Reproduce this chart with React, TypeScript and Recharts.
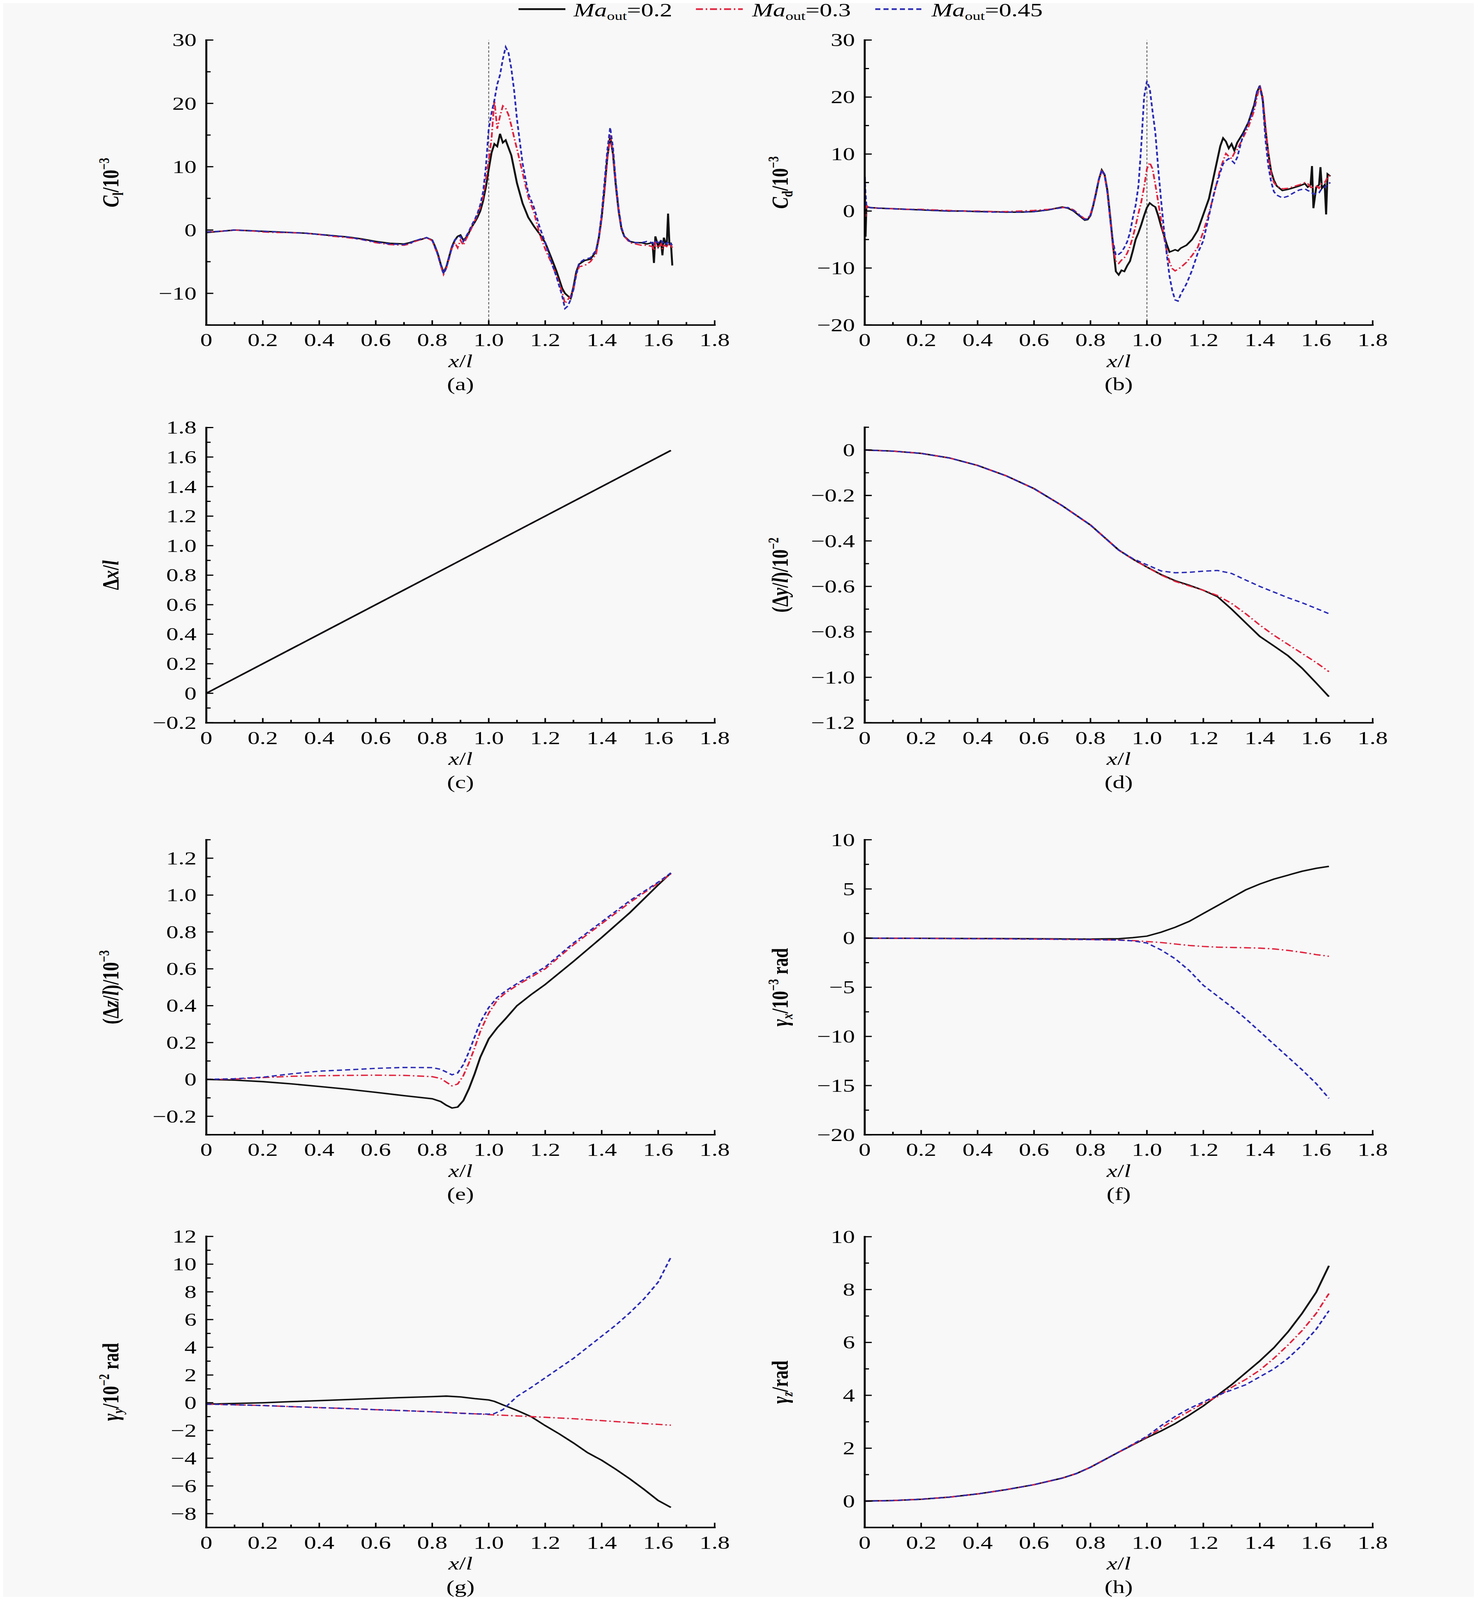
import React from 'react';
import { LineChart, Line, XAxis, YAxis, ReferenceLine } from 'recharts';

const FONT = "'Liberation Serif','Times New Roman',Times,serif";

// ---------- ticks ----------
const xTicks = [0, 0.1, 0.2, 0.3, 0.4, 0.5, 0.6, 0.7, 0.8, 0.9, 1.0, 1.1, 1.2, 1.3, 1.4, 1.5, 1.6, 1.7, 1.8];
const aYTicks = [-15, -10, -5, 0, 5, 10, 15, 20, 25, 30];
const bYTicks = [-20, -15, -10, -5, 0, 5, 10, 15, 20, 25, 30];
const cYTicks = [-0.2, -0.1, 0, 0.1, 0.2, 0.3, 0.4, 0.5, 0.6, 0.7, 0.8, 0.9, 1.0, 1.1, 1.2, 1.3, 1.4, 1.5, 1.6, 1.7, 1.8];
const dYTicks = [-1.2, -1.1, -1.0, -0.9, -0.8, -0.7, -0.6, -0.5, -0.4, -0.3, -0.2, -0.1, 0, 0.1];
const eYTicks = [-0.3, -0.2, -0.1, 0, 0.1, 0.2, 0.3, 0.4, 0.5, 0.6, 0.7, 0.8, 0.9, 1.0, 1.1, 1.2, 1.3];
const fYTicks = [-20, -17.5, -15, -12.5, -10, -7.5, -5, -2.5, 0, 2.5, 5, 7.5, 10];
const gYTicks = [-9, -8, -7, -6, -5, -4, -3, -2, -1, 0, 1, 2, 3, 4, 5, 6, 7, 8, 9, 10, 11, 12];
const hYTicks = [-1, 0, 1, 2, 3, 4, 5, 6, 7, 8, 9, 10];

// ---------- (a) lift coefficient ----------
const aX = [0, 0.05, 0.1, 0.15, 0.2, 0.25, 0.3, 0.35, 0.4, 0.45,
  0.5, 0.55, 0.6, 0.65, 0.7, 0.72, 0.74, 0.76, 0.78, 0.8,
  0.81, 0.82, 0.83, 0.84, 0.85, 0.86, 0.87, 0.88, 0.89, 0.9,
  0.91, 0.92, 0.93, 0.94, 0.95, 0.96, 0.97, 0.98, 0.99, 1.0,
  1.01, 1.02, 1.03, 1.04, 1.05, 1.06, 1.07, 1.08, 1.09, 1.1,
  1.12, 1.14, 1.16, 1.18, 1.2, 1.22, 1.24, 1.26, 1.27, 1.28,
  1.29, 1.3, 1.31, 1.32, 1.34, 1.36, 1.38, 1.39, 1.4, 1.41,
  1.42, 1.43, 1.44, 1.45, 1.46, 1.47, 1.48, 1.5, 1.52, 1.54,
  1.56, 1.58, 1.585, 1.59, 1.6, 1.61, 1.615, 1.62, 1.63, 1.635,
  1.64, 1.645, 1.65];
const aBlack = [-0.4, -0.2, 0.0, -0.1, -0.2, -0.3, -0.4, -0.5, -0.7, -0.9,
  -1.1, -1.4, -1.8, -2.1, -2.2, -2.0, -1.7, -1.5, -1.2, -1.6,
  -2.6, -3.8, -5.4, -6.7, -5.8, -4.2, -2.6, -1.6, -1.0, -0.8,
  -1.6, -1.2, -0.4, 0.5, 1.2, 2.0, 3.0, 4.6, 6.8, 9.6,
  12.2, 13.6, 13.2, 15.2, 13.8, 14.2, 13.0, 11.8, 9.6, 7.4,
  4.2, 2.0, 0.6, -0.6, -2.0, -4.2, -6.5, -9.2, -10.0, -10.4,
  -10.8, -9.0, -6.6, -5.4, -4.8, -4.6, -3.4, -1.2, 2.0, 6.5,
  11.5, 14.8, 12.0, 7.0, 3.0, 0.2, -1.0, -1.8, -2.0, -2.0,
  -2.2, -2.0, -5.2, -1.0, -2.6, -1.6, -4.0, -1.2, -2.6, 2.6,
  -2.4, -2.0, -5.6];
const aRed = [-0.3, -0.2, 0.0, -0.1, -0.3, -0.4, -0.4, -0.5, -0.7, -1.0,
  -1.2, -1.5, -2.0, -2.3, -2.4, -2.2, -1.8, -1.5, -1.2, -1.7,
  -2.8, -4.0, -5.6, -7.0, -6.0, -4.4, -2.8, -2.0, -2.8, -1.6,
  -2.4, -1.4, -0.6, 0.4, 1.4, 2.4, 3.6, 5.2, 8.0, 11.0,
  14.5, 20.5, 16.0, 18.0, 19.6, 19.2, 18.2, 16.5, 14.6, 12.8,
  9.0, 5.2, 2.8, -0.6, -3.0, -5.0, -7.2, -9.8, -11.6, -11.0,
  -10.4, -9.4, -7.0, -5.8, -5.6, -5.0, -3.8, -1.4, 2.0, 6.2,
  11.2, 15.0, 12.2, 7.2, 3.2, 0.4, -1.0, -2.0, -2.2, -2.4,
  -2.4, -2.6, -3.2, -2.0, -2.8, -2.2, -3.0, -2.4, -2.6, -2.2,
  -2.6, -2.4, -2.8];
const aBlue = [-0.3, -0.2, 0.0, -0.1, -0.2, -0.3, -0.4, -0.5, -0.7, -0.9,
  -1.1, -1.5, -1.9, -2.2, -2.3, -2.1, -1.7, -1.4, -1.2, -1.6,
  -2.7, -3.9, -5.5, -6.9, -5.9, -4.3, -2.7, -1.6, -1.2, -1.0,
  -1.8, -1.0, -0.2, 0.8, 1.6, 2.6, 4.0, 6.0, 10.0, 16.0,
  18.5, 20.5, 23.0, 24.5, 27.0, 28.9, 28.0, 25.5, 22.0, 17.5,
  10.5, 5.8, 3.6, 0.5, -2.0, -4.8, -7.4, -10.4, -12.4, -12.0,
  -11.0, -9.4, -7.0, -5.2, -4.6, -4.4, -3.2, -1.0, 2.6, 7.6,
  12.6, 16.2, 13.0, 7.6, 3.4, 0.4, -1.0, -1.8, -2.0, -2.0,
  -1.8, -2.0, -2.2, -1.8, -2.0, -1.6, -2.0, -1.8, -2.2, -1.8,
  -2.0, -2.2, -2.4];

// ---------- (b) drag coefficient ----------
const bX = [0, 0.003, 0.006, 0.01, 0.02, 0.05, 0.1, 0.15, 0.2, 0.25,
  0.3, 0.35, 0.4, 0.45, 0.5, 0.55, 0.6, 0.65, 0.7, 0.72,
  0.74, 0.76, 0.78, 0.79, 0.8, 0.81, 0.82, 0.83, 0.84, 0.85,
  0.86, 0.87, 0.88, 0.89, 0.9, 0.91, 0.92, 0.93, 0.94, 0.95,
  0.96, 0.97, 0.98, 0.99, 1.0, 1.01, 1.02, 1.03, 1.04, 1.05,
  1.06, 1.07, 1.08, 1.09, 1.1, 1.11, 1.12, 1.14, 1.16, 1.18,
  1.2, 1.22, 1.24, 1.26, 1.27, 1.28, 1.29, 1.3, 1.31, 1.32,
  1.34, 1.36, 1.38, 1.39, 1.4, 1.41, 1.42, 1.43, 1.44, 1.45,
  1.46, 1.48, 1.5, 1.52, 1.54, 1.56, 1.57, 1.58, 1.585, 1.59,
  1.6, 1.61, 1.615, 1.62, 1.63, 1.635, 1.64, 1.65];
const bBlack = [6.0, -4.5, 1.0, 0.7, 0.6, 0.5, 0.4, 0.3, 0.2, 0.1,
  0.0, 0.0, -0.1, -0.1, -0.2, -0.2, -0.1, 0.2, 0.7, 0.5,
  0.0, -0.8, -1.6, -1.5, -0.8, 1.0, 3.2, 5.6, 7.2, 6.4,
  3.6, -1.0, -6.0, -10.6, -11.2, -10.4, -10.6, -9.6, -8.8, -7.0,
  -5.0, -3.8, -2.4, -0.8, 0.6, 1.4, 1.0, 0.7, -0.8, -2.6,
  -4.2, -5.8, -7.2, -7.0, -6.8, -7.0, -6.5, -6.0, -5.0, -3.4,
  -0.6, 2.2, 6.8, 11.4, 12.8, 12.2, 11.0, 11.8, 10.6, 12.0,
  13.6, 15.6, 18.6, 20.8, 22.0, 19.8, 14.4, 10.2, 7.0, 5.4,
  4.4, 3.6, 3.8, 4.1, 4.4, 4.8, 4.2, 4.6, 7.9, 0.5,
  4.2, 4.6, 7.7, 4.0, 4.6, -0.6, 6.5, 6.1];
const bRed = [5.0, -1.0, 1.0, 0.8, 0.6, 0.5, 0.4, 0.3, 0.3, 0.2,
  0.1, 0.0, 0.0, -0.1, -0.1, 0.0, 0.1, 0.3, 0.6, 0.6,
  0.2, -0.6, -1.4, -1.3, -0.6, 1.2, 3.4, 5.6, 7.0, 6.2,
  3.4, -1.4, -6.6, -8.8, -9.2, -8.6, -8.2, -7.4, -6.2, -4.6,
  -2.6, -0.4, 1.6, 4.2, 7.4, 8.5, 7.4, 4.6, 1.6, -1.6,
  -4.4, -7.0, -9.0, -10.1, -10.5, -10.2, -9.9, -9.0, -7.8, -6.4,
  -3.6, -0.4, 3.4, 7.4, 8.8, 10.1, 9.6, 9.2, 10.2, 10.8,
  12.8, 14.8, 17.6, 20.0, 22.0, 20.2, 15.0, 10.0, 6.6, 5.0,
  4.4, 3.9, 4.0, 4.3, 4.6, 5.0, 4.8, 4.2, 3.9, 4.2,
  4.4, 4.0, 4.6, 4.8, 5.0, 5.4, 6.0, 6.3];
const bBlue = [6.0, 3.0, 1.0, 0.8, 0.6, 0.5, 0.4, 0.3, 0.2, 0.1,
  0.0, 0.0, -0.1, -0.2, -0.2, -0.2, -0.1, 0.2, 0.6, 0.6,
  0.1, -0.7, -1.5, -1.4, -0.7, 1.1, 3.3, 5.6, 7.2, 6.4,
  3.2, -1.6, -5.4, -7.8, -7.6, -7.2, -6.4, -5.4, -3.8, -1.2,
  1.0, 4.4, 11.5, 20.0, 22.8, 21.5, 17.5, 13.7, 7.5, 2.0,
  -3.0, -7.5, -11.4, -14.0, -15.6, -15.8, -14.6, -12.8, -10.4, -7.4,
  -5.2, -0.8, 3.6, 6.8, 8.3, 8.8, 9.2, 8.9, 8.4, 9.4,
  13.2, 15.6, 18.2, 21.0, 21.8, 19.4, 12.6, 8.0, 5.2, 3.4,
  2.8, 2.3, 2.6, 3.2, 3.7, 3.9, 3.6, 3.4, 3.2, 3.0,
  3.0, 3.2, 3.6, 3.9, 4.2, 4.4, 4.7, 5.0];

// ---------- (c) Δx/l ----------
const cX = [0, 0.4, 0.8, 1.2, 1.645];
const cBlack = [0, 0.4, 0.8, 1.2, 1.645];
const cRed = [0, 0.4, 0.8, 1.2, 1.645];
const cBlue = [0, 0.4, 0.8, 1.2, 1.645];

// ---------- (d) Δy/l ----------
const dX = [0, 0.1, 0.2, 0.3, 0.4, 0.5, 0.6, 0.7, 0.8, 0.85, 0.9, 0.95, 1.0, 1.05, 1.1, 1.15, 1.2, 1.25, 1.3, 1.35, 1.4, 1.45, 1.5, 1.55, 1.6, 1.645];
const dBlack = [0, -0.005, -0.015, -0.035, -0.068, -0.113, -0.17, -0.245, -0.33, -0.385, -0.44, -0.48, -0.515, -0.548, -0.575, -0.595, -0.617, -0.645, -0.7, -0.76, -0.82, -0.862, -0.905, -0.96, -1.025, -1.085];
const dRed = [0, -0.005, -0.015, -0.035, -0.068, -0.113, -0.17, -0.245, -0.33, -0.385, -0.44, -0.48, -0.515, -0.55, -0.578, -0.598, -0.617, -0.64, -0.675, -0.72, -0.77, -0.815, -0.855, -0.895, -0.935, -0.975];
const dBlue = [0, -0.005, -0.015, -0.035, -0.068, -0.113, -0.17, -0.245, -0.33, -0.385, -0.44, -0.478, -0.505, -0.532, -0.54, -0.538, -0.533, -0.53, -0.543, -0.572, -0.6, -0.625, -0.65, -0.672, -0.697, -0.72];

// ---------- (e) Δz/l ----------
const eX = [0, 0.1, 0.2, 0.3, 0.4, 0.5, 0.6, 0.7, 0.8, 0.83, 0.85, 0.87, 0.89, 0.91, 0.93, 0.95, 0.97, 1.0, 1.03, 1.06, 1.1, 1.15, 1.2, 1.3, 1.4, 1.5, 1.6, 1.645];
const eBlack = [0, -0.004, -0.012, -0.024, -0.038, -0.053, -0.07, -0.088, -0.105, -0.12, -0.14, -0.155, -0.15, -0.115, -0.05, 0.03, 0.12, 0.22, 0.28, 0.33, 0.4, 0.46, 0.515, 0.64, 0.77, 0.905, 1.055, 1.12];
const eRed = [0, 0.002, 0.01, 0.017, 0.02, 0.022, 0.023, 0.022, 0.015, 0.005, -0.015, -0.035, -0.025, 0.02, 0.09, 0.17, 0.26, 0.36, 0.43, 0.47, 0.51, 0.555, 0.6, 0.73, 0.845, 0.96, 1.065, 1.115];
const eBlue = [0, 0.004, 0.012, 0.03, 0.045, 0.052, 0.06, 0.065, 0.064, 0.055, 0.04, 0.025, 0.035, 0.08, 0.15, 0.23, 0.31, 0.39, 0.445, 0.48, 0.52, 0.565, 0.61, 0.74, 0.855, 0.97, 1.07, 1.12];

// ---------- (f) γx ----------
const fX = [0, 0.2, 0.4, 0.6, 0.8, 0.9, 0.95, 1.0, 1.05, 1.1, 1.15, 1.2, 1.25, 1.3, 1.35, 1.4, 1.45, 1.5, 1.55, 1.6, 1.645];
const fBlack = [0, -0.02, -0.04, -0.06, -0.1, -0.06, 0.05, 0.2, 0.6, 1.1, 1.7, 2.5, 3.3, 4.1, 4.9, 5.5, 6.0, 6.4, 6.8, 7.1, 7.3];
const fRed = [0, -0.03, -0.06, -0.1, -0.15, -0.2, -0.25, -0.35, -0.45, -0.6, -0.75, -0.85, -0.92, -0.95, -0.98, -1.02, -1.1, -1.25, -1.45, -1.68, -1.85];
const fBlue = [0, -0.03, -0.06, -0.1, -0.15, -0.2, -0.28, -0.5, -1.2, -2.1, -3.3, -4.8, -5.9, -7.0, -8.2, -9.5, -10.8, -12.1, -13.4, -14.8, -16.3];

// ---------- (g) γy ----------
const gX = [0, 0.1, 0.2, 0.3, 0.4, 0.5, 0.6, 0.7, 0.8, 0.85, 0.9, 0.95, 1.0, 1.02, 1.05, 1.1, 1.15, 1.2, 1.25, 1.3, 1.35, 1.4, 1.45, 1.5, 1.55, 1.6, 1.645];
const gBlack = [-0.1, -0.05, 0.0, 0.08, 0.15, 0.23, 0.31, 0.38, 0.44, 0.48, 0.42, 0.3, 0.2, 0.1, -0.15, -0.55, -1.0, -1.65, -2.25, -2.9, -3.6, -4.15, -4.8, -5.5, -6.25, -7.05, -7.55];
const gRed = [-0.1, -0.15, -0.2, -0.28, -0.35, -0.42, -0.5, -0.57, -0.65, -0.7, -0.75, -0.8, -0.85, -0.88, -0.9, -0.95, -1.0, -1.05, -1.1, -1.15, -1.22, -1.29, -1.36, -1.43, -1.5, -1.56, -1.62];
const gBlue = [-0.1, -0.15, -0.2, -0.28, -0.35, -0.42, -0.5, -0.57, -0.65, -0.7, -0.76, -0.8, -0.82, -0.78, -0.5, 0.45, 1.1, 1.8, 2.5, 3.2, 4.0, 4.8, 5.6, 6.5, 7.5, 8.7, 10.5];

// ---------- (h) γz ----------
const hX = [0, 0.1, 0.2, 0.3, 0.4, 0.5, 0.6, 0.7, 0.75, 0.8, 0.9, 1.0, 1.05, 1.1, 1.15, 1.2, 1.25, 1.3, 1.35, 1.4, 1.45, 1.5, 1.55, 1.6, 1.645];
const hBlack = [0, 0.02, 0.07, 0.15, 0.27, 0.43, 0.62, 0.87, 1.04, 1.28, 1.85, 2.4, 2.65, 2.93, 3.25, 3.6, 4.0, 4.4, 4.85, 5.3, 5.8, 6.4, 7.1, 7.9, 8.9];
const hRed = [0, 0.02, 0.07, 0.15, 0.27, 0.43, 0.62, 0.87, 1.04, 1.28, 1.85, 2.42, 2.75, 3.1, 3.4, 3.7, 3.95, 4.3, 4.6, 4.95, 5.4, 5.9, 6.45, 7.1, 7.85];
const hBlue = [0, 0.02, 0.07, 0.15, 0.27, 0.43, 0.62, 0.87, 1.04, 1.28, 1.85, 2.45, 2.85, 3.2, 3.5, 3.75, 4.0, 4.2, 4.4, 4.7, 5.0, 5.4, 5.9, 6.5, 7.2];

// ---------- legend ----------
const legendNames = ['0.2', '0.3', '0.45'];

// ---------- styles ----------
const SERIES_STYLE = [
  { stroke: '#111111', strokeWidth: 5, dash: undefined as string | undefined },
  { stroke: '#e1233e', strokeWidth: 4.5, dash: '18 7 4 7' },
  { stroke: '#2a2ab6', strokeWidth: 4.5, dash: '13 8' },
];

const zip = (xs: number[], ys: number[]) => xs.map((x, i) => ({ x, y: ys[i] }));

type PanelCfg = {
  id: string; x0: number; x1: number; y0: number; y1: number;
  yDomain: [number, number]; yTicks: number[]; yMajor: number; yDec: number;
  ref: boolean; xs: number[]; series: number[][]; order: number[];
};

const panels: PanelCfg[] = [
  { id: 'a', x0: 528, x1: 1829, y0: 136, y1: 1103, yDomain: [-15, 30], yTicks: aYTicks, yMajor: 10, yDec: 0, ref: true, xs: aX, series: [aBlack, aRed, aBlue], order: [0, 1, 2] },
  { id: 'b', x0: 2213, x1: 3513, y0: 136, y1: 1103, yDomain: [-20, 30], yTicks: bYTicks, yMajor: 10, yDec: 0, ref: true, xs: bX, series: [bBlack, bRed, bBlue], order: [0, 1, 2] },
  { id: 'c', x0: 528, x1: 1829, y0: 1451, y1: 2453, yDomain: [-0.2, 1.8], yTicks: cYTicks, yMajor: 0.2, yDec: 1, ref: false, xs: cX, series: [cBlack, cRed, cBlue], order: [1, 2, 0] },
  { id: 'd', x0: 2213, x1: 3513, y0: 1450, y1: 2453, yDomain: [-1.2, 0.1], yTicks: dYTicks, yMajor: 0.2, yDec: 1, ref: false, xs: dX, series: [dBlack, dRed, dBlue], order: [0, 1, 2] },
  { id: 'e', x0: 528, x1: 1829, y0: 2850, y1: 3851, yDomain: [-0.3, 1.3], yTicks: eYTicks, yMajor: 0.2, yDec: 1, ref: false, xs: eX, series: [eBlack, eRed, eBlue], order: [0, 1, 2] },
  { id: 'f', x0: 2213, x1: 3513, y0: 2850, y1: 3851, yDomain: [-20, 10], yTicks: fYTicks, yMajor: 5, yDec: 0, ref: false, xs: fX, series: [fBlack, fRed, fBlue], order: [0, 1, 2] },
  { id: 'g', x0: 528, x1: 1829, y0: 4196, y1: 5184, yDomain: [-9, 12], yTicks: gYTicks, yMajor: 2, yDec: 0, ref: false, xs: gX, series: [gBlack, gRed, gBlue], order: [0, 1, 2] },
  { id: 'h', x0: 2213, x1: 3513, y0: 4197, y1: 5184, yDomain: [-1, 10], yTicks: hYTicks, yMajor: 2, yDec: 0, ref: false, xs: hX, series: [hBlack, hRed, hBlue], order: [0, 1, 2] },
];

const PL = 330, PR = 60, PT = 40, PB = 200, YW = 100, XH = 100;
const TICK_FS = 62;
const PAGE_W = 3780, PAGE_H = 5430;

const isMajor = (v: number, step: number) => Math.abs(v / step - Math.round(v / step)) < 1e-6;
const fmt = (v: number, dec: number) => {
  if (Math.abs(v) < 1e-9) return '0';
  const s = Math.abs(v).toFixed(dec);
  return v < 0 ? '\u2212' + s : s;
};

function Panel({ cfg }: { cfg: PanelCfg }) {
  const w = cfg.x1 - cfg.x0;
  const h = cfg.y1 - cfg.y0;
  const axisY = PT + h;
  const axisX = PL;
  const axisStyle = { stroke: '#000', strokeWidth: 5, strokeLinecap: 'square' as const };

  const xTick = (props: any) => {
    const x = props.x;
    const v = props.payload.value;
    const major = isMajor(v, 0.2);
    return (
      <g>
        <line x1={x} x2={x} y1={axisY} y2={axisY - (major ? 16 : 10)} stroke="#000" strokeWidth={4} />
        {major && (
          <text x={x} y={axisY + 72} textAnchor="middle" fontSize={TICK_FS} fontFamily={FONT} fill="#000">
            {fmt(v, 1)}
          </text>
        )}
      </g>
    );
  };
  const yTick = (props: any) => {
    const y = props.y;
    const v = props.payload.value;
    const major = isMajor(v, cfg.yMajor);
    return (
      <g>
        <line x1={axisX} x2={axisX + (major ? 18 : 11)} y1={y} y2={y} stroke="#000" strokeWidth={4} />
        {major && (
          <text x={axisX - 25} y={y + 21} textAnchor="end" fontSize={TICK_FS} fontFamily={FONT} fill="#000">
            {fmt(v, cfg.yDec)}
          </text>
        )}
      </g>
    );
  };

  return (
    <div style={{ position: 'absolute', left: cfg.x0 - PL, top: cfg.y0 - PT, width: w + PL + PR, height: h + PT + PB }}>
      <LineChart width={w + PL + PR} height={h + PT + PB} margin={{ top: PT, right: PR, left: PL - YW, bottom: PB - XH }}>
        <XAxis type="number" dataKey="x" domain={[0, 1.8]} ticks={xTicks} interval={0} tickLine={false}
          axisLine={axisStyle} tick={xTick} height={XH} allowDataOverflow />
        <YAxis type="number" domain={cfg.yDomain} ticks={cfg.yTicks} interval={0} tickLine={false}
          axisLine={axisStyle} tick={yTick} width={YW} allowDataOverflow />
        {cfg.ref && <ReferenceLine x={1} stroke="#6a6a6a" strokeDasharray="8 6" strokeWidth={2.5} />}
        {cfg.order.map((i) => (
          <Line key={i} data={zip(cfg.xs, cfg.series[i])} dataKey="y" type="linear" dot={false} activeDot={false}
            isAnimationActive={false} stroke={SERIES_STYLE[i].stroke} strokeWidth={SERIES_STYLE[i].strokeWidth}
            strokeDasharray={SERIES_STYLE[i].dash} />
        ))}
      </LineChart>
    </div>
  );
}

const SUB = 38;

function YLabel({ x, y, children }: { x: number; y: number; children: React.ReactNode }) {
  return (
    <text x={x} y={y} transform={`rotate(-90 ${x} ${y})`} textAnchor="middle" fontSize={60} fontWeight={700} fontFamily={FONT} fill="#000">
      {children}
    </text>
  );
}

function Overlay() {
  const lx = 303, rx = 2016;
  const cy = (p: PanelCfg) => (p.y0 + p.y1) / 2;
  const [pa, pb, pc, pd, pe, pf, pg, ph] = panels;
  const legendItems = [
    { lineX: 1327, textX: 1468 },
    { lineX: 1781, textX: 1925 },
    { lineX: 2240, textX: 2384 },
  ];
  return (
    <svg width={PAGE_W} height={PAGE_H} style={{ position: 'absolute', left: 0, top: 0, pointerEvents: 'none' }}>
      {legendItems.map((it, i) => (
        <g key={i}>
          <line x1={it.lineX} x2={it.lineX + 120} y1={31} y2={31} stroke={SERIES_STYLE[i].stroke}
            strokeWidth={SERIES_STYLE[i].strokeWidth + 1} strokeDasharray={SERIES_STYLE[i].dash} />
          <text x={it.textX} y={56} fontSize={64} fontFamily={FONT} fill="#000">
            <tspan fontStyle="italic">Ma</tspan>
            <tspan fontSize={40} dy={12}>out</tspan>
            <tspan dy={-12}>={legendNames[i]}</tspan>
          </text>
        </g>
      ))}

      <YLabel x={lx} y={cy(pa)}>
        <tspan fontStyle="italic">C</tspan><tspan fontSize={SUB} dy={12}>l</tspan><tspan dy={-12}>/10</tspan><tspan fontSize={SUB} dy={-24}>−3</tspan>
      </YLabel>
      <YLabel x={rx} y={cy(pb)}>
        <tspan fontStyle="italic">C</tspan><tspan fontSize={SUB} dy={12}>d</tspan><tspan dy={-12}>/10</tspan><tspan fontSize={SUB} dy={-24}>−3</tspan>
      </YLabel>
      <YLabel x={lx} y={cy(pc)}>
        <tspan>Δ</tspan><tspan fontStyle="italic">x</tspan><tspan>/</tspan><tspan fontStyle="italic">l</tspan>
      </YLabel>
      <YLabel x={rx} y={cy(pd)}>
        <tspan>(Δ</tspan><tspan fontStyle="italic">y</tspan><tspan>/</tspan><tspan fontStyle="italic">l</tspan><tspan>)/10</tspan><tspan fontSize={SUB} dy={-24}>−2</tspan>
      </YLabel>
      <YLabel x={lx} y={cy(pe)}>
        <tspan>(Δ</tspan><tspan fontStyle="italic">z</tspan><tspan>/</tspan><tspan fontStyle="italic">l</tspan><tspan>)/10</tspan><tspan fontSize={SUB} dy={-24}>−3</tspan>
      </YLabel>
      <YLabel x={rx} y={cy(pf)}>
        <tspan fontStyle="italic">γ</tspan><tspan fontSize={SUB} fontStyle="italic" dy={12}>x</tspan><tspan dy={-12}>/10</tspan><tspan fontSize={SUB} dy={-24}>−3</tspan><tspan dy={24}> rad</tspan>
      </YLabel>
      <YLabel x={lx} y={cy(pg)}>
        <tspan fontStyle="italic">γ</tspan><tspan fontSize={SUB} fontStyle="italic" dy={12}>y</tspan><tspan dy={-12}>/10</tspan><tspan fontSize={SUB} dy={-24}>−2</tspan><tspan dy={24}> rad</tspan>
      </YLabel>
      <YLabel x={rx} y={cy(ph)}>
        <tspan fontStyle="italic">γ</tspan><tspan fontSize={SUB} fontStyle="italic" dy={12}>z</tspan><tspan dy={-12}>/rad</tspan>
      </YLabel>

      {panels.map((p) => {
        const cx = (p.x0 + p.x1) / 2;
        return (
          <g key={p.id}>
            <text x={cx} y={p.y1 + 143} textAnchor="middle" fontSize={62} fontFamily={FONT} fill="#000">
              <tspan fontStyle="italic">x</tspan><tspan>/</tspan><tspan fontStyle="italic">l</tspan>
            </text>
            <text x={cx} y={p.y1 + 222} textAnchor="middle" fontSize={62} fontFamily={FONT} fill="#000">
              ({p.id})
            </text>
          </g>
        );
      })}
    </svg>
  );
}

export default function App() {
  const viewH = typeof window !== 'undefined' && window.innerHeight > 0 ? window.innerHeight : PAGE_H;
  const sy = Math.min(1, viewH / PAGE_H);
  return (
    <div style={{ position: 'relative', margin: -8, width: PAGE_W, height: Math.floor(PAGE_H * sy), background: '#f8f8f8', overflow: 'hidden' }}>
      <div style={{ position: 'absolute', left: 0, top: 0, width: PAGE_W, height: PAGE_H, transform: `scaleY(${sy})`, transformOrigin: '0 0', fontFamily: FONT }}>
        {panels.map((p) => (
          <Panel key={p.id} cfg={p} />
        ))}
        <Overlay />
      </div>
    </div>
  );
}
